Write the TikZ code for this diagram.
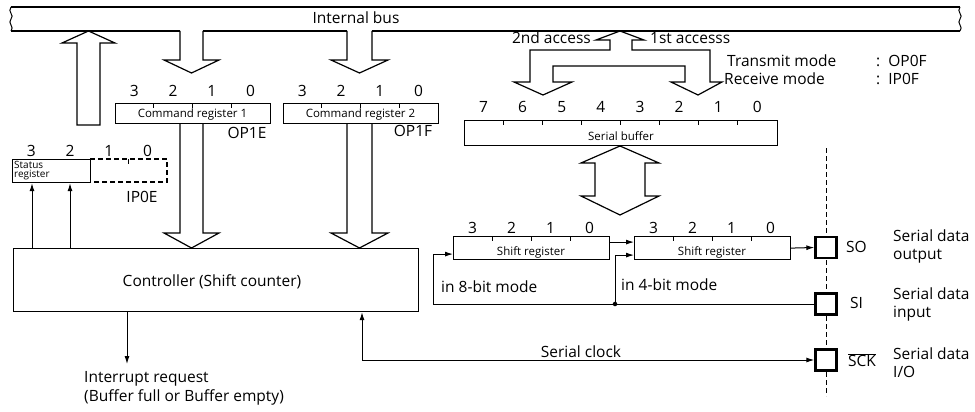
\documentclass[tikz,border=0pt]{standalone}
\usepackage{fontspec}
\setmainfont{Open Sans}
\usetikzlibrary{arrows.meta}
\begin{document}
\begin{tikzpicture}[x=1pt,y=-1pt,
  lbl/.style={font=\fontsize{15.5}{18}\selectfont, inner sep=0pt},
  sml/.style={font=\fontsize{11.5}{12}\selectfont, inner sep=0pt},
  tny/.style={font=\fontsize{10}{9}\selectfont, inner sep=0pt, align=left},
  reg/.style={draw, line width=1.2pt, inner sep=0pt},
  blk/.style={line width=1.2pt, line join=miter},
  arr/.style={-{Latex[length=8pt,width=5pt]}, line width=1pt},
  arrb/.style={{Latex[length=8pt,width=5pt]}-{Latex[length=8pt,width=5pt]}, line width=1pt},
  pin/.style={draw, line width=2.4pt, minimum width=21pt, minimum height=21pt, fill=white, inner sep=0pt},
  dsh/.style={dash pattern=on 5pt off 3pt},
  tck/.style={line width=1pt}]
\useasboundingbox (0,0) rectangle (975,412);

% ---------- internal bus ----------
\draw[blk] (11,7) -- (960,7);
\draw[blk] (11,31) -- (180,31) (203,31) -- (347,31) (372,31) -- (960,31);
\draw[line width=1pt] (11,7) .. controls (7,12) and (15,15) .. (11,19) .. controls (7,23) and (15,27) .. (11,31);
\draw[line width=1pt] (960,7) .. controls (956,12) and (964,15) .. (960,19) .. controls (956,23) and (964,27) .. (960,31);
\node[lbl] (busl) at (356,18) {Internal bus};

% ---------- block arrows ----------
\draw[blk] (77,125) -- (77,43) -- (62,43) -- (88.5,31) -- (115,43) -- (100,43) -- (100,125) -- cycle;
\draw[blk] (180,31) -- (180,60) -- (164,60) -- (191.5,73) -- (219,60) -- (203,60) -- (203,31);
\draw[blk] (347,31) -- (347,60) -- (331,60) -- (359.5,73) -- (388,60) -- (372,60) -- (372,31);
\draw[blk] (180,123) -- (180,233) -- (164,233) -- (191.5,248) -- (219,233) -- (203,233) -- (203,123);
\draw[blk] (347,123) -- (347,233) -- (331,233) -- (359.5,248) -- (388,233) -- (372,233) -- (372,123);
% access arrows
\draw[blk] (530,50) -- (530,82) -- (514,82) -- (543,95) -- (572,82) -- (553,82) -- (553,66)
  -- (685,66) -- (685,82) -- (671,82) -- (698,95) -- (722,82) -- (710,82) -- (710,50)
  -- (632,50) -- (632,40) -- (644,40) -- (620,31) -- (596,40) -- (610,40) -- (610,50) -- cycle;
% buffer <-> shift register
\draw[blk] (620,146) -- (581,163) -- (595,163) -- (595,196) -- (581,196) -- (620,215)
  -- (659,196) -- (645,196) -- (645,163) -- (659,163) -- cycle;

\node[lbl, anchor=east] (acc2) at (591,38) {2nd access};
\node[lbl, anchor=west] (acc1) at (650,38) {1st accesss};
\node[lbl, anchor=west] (txm) at (727,61) {Transmit mode};
\node[lbl, anchor=west] (txv) at (876,61) {:\ \ OP0F};
\node[lbl, anchor=west] (rxm) at (724,79) {Receive mode};
\node[lbl, anchor=west] (rxv) at (876,79) {:\ \ IP0F};

% ---------- command registers ----------
\node[reg, minimum width=155pt, minimum height=20pt, anchor=north west] (cr1) at (115,103) {};
\node[sml] (cr1t) at (192.5,115) {Command register 1};
\foreach \i in {1,2,3} \draw[tck] ({115+38.75*\i},103) -- ++(0,5);
\foreach \b [count=\i] in {3,2,1,0} \node[lbl] (cra\b) at ({115+38.75*\i-19.4},91) {\b};
\node[lbl] (op1e) at (247,133) {OP1E};

\node[reg, minimum width=155pt, minimum height=20pt, anchor=north west] (cr2) at (283,103) {};
\node[sml] (cr2t) at (360.5,115) {Command register 2};
\foreach \i in {1,2,3} \draw[tck] ({283+38.75*\i},103) -- ++(0,5);
\foreach \b [count=\i] in {3,2,1,0} \node[lbl] (crb\b) at ({283+38.75*\i-19.4},91) {\b};
\node[lbl] (op1f) at (413,131) {OP1F};

% ---------- serial buffer ----------
\node[reg, minimum width=313pt, minimum height=25pt, anchor=north west] (sbuf) at (464,120) {};
\node[sml] (sbuft) at (621,136) {Serial buffer};
\foreach \i in {1,...,7} \draw[tck] ({464+39.125*\i},120) -- ++(0,5);
\foreach \b [count=\i] in {7,6,5,4,3,2,1,0} \node[lbl] (sbb\b) at ({464+39.125*\i-19.6},107) {\b};

% ---------- status register ----------
\node[reg, minimum width=78pt, minimum height=23pt, anchor=north west] (st) at (12,159) {};
\draw[line width=1.2pt, dsh] (90,159) -- (167,159) -- (167,182) -- (90,182);
\draw[tck] (128,159) -- ++(0,5);
\node[tny, anchor=west] (stt) at (14,171) {Status\\register};
\foreach \b [count=\i] in {3,2,1,0} \node[lbl] (stb\b) at ({12+38.75*\i-19.4},151) {\b};
\node[lbl] (ip0e) at (142,197) {IP0E};

% ---------- controller ----------
\node[reg, minimum width=405pt, minimum height=63pt, anchor=north west] (ctrl) at (13,248) {};
\node[lbl] (ctrlt) at (212,282) {Controller (Shift counter)};
\draw[arr] (ctrl.north -| 32,0) -- (st.south -| 32,0);
\draw[arr] (ctrl.north -| 70,0) -- (st.south -| 70,0);
\coordinate (irq) at (127,364);
\draw[arr] (ctrl.south -| irq) -- (irq);
\node[lbl, anchor=west] (irqt1) at (84,379) {Interrupt request};
\node[lbl, anchor=west] (irqt2) at (84,397) {(Buffer full or Buffer empty)};

% ---------- shift registers ----------
\node[reg, minimum width=156pt, minimum height=23pt, anchor=north west] (sr1) at (453,236) {};
\node[sml] (sr1t) at (531,252) {Shift register};
\foreach \i in {1,2,3} \draw[tck] ({453+39*\i},236) -- ++(0,5);
\foreach \b [count=\i] in {3,2,1,0} \node[lbl] (sra\b) at ({453+39*\i-19.5},228) {\b};

\node[reg, minimum width=156pt, minimum height=23pt, anchor=north west] (sr2) at (634,236) {};
\node[sml] (sr2t) at (712,252) {Shift register};
\foreach \i in {1,2,3} \draw[tck] ({634+39*\i},236) -- ++(0,5);
\foreach \b [count=\i] in {3,2,1,0} \node[lbl] (srb\b) at ({634+39*\i-19.5},228) {\b};

% ---------- pins ----------
\draw[line width=1pt, dsh] (826,148) -- (826,396);
\node[pin] (so) at (826,247.5) {};
\node[pin] (si) at (826,304) {};
\node[pin] (sck) at (826,360) {};
\node[lbl, anchor=west] (sot) at (846,247) {SO};
\node[lbl, anchor=west] (sit) at (850,303) {SI};
\node[lbl, anchor=west] (sckt) at (848,360) {$\overline{\hbox{SCK}}$};
\node[lbl, anchor=west, align=left] (sod) at (893,246) {Serial data\\output};
\node[lbl, anchor=west, align=left] (sid) at (893,304) {Serial data\\input};
\node[lbl, anchor=west, align=left] (sckd) at (893,363) {Serial data\\I/O};

% ---------- connections ----------
\draw[arr] ([yshift=6pt]sr1.east) -- ([yshift=6pt]sr1.east -| sr2.west);
\draw[arr] (sr2.east) -- (so.west);
\node[circle, fill, inner sep=1.6pt] (jn) at (615,304) {};
\coordinate (c8) at (433,304);
\draw[line width=1pt] (si.west) -- (c8);
\draw[arr] (c8) |- ([yshift=-6pt]sr1.west);
\draw[arr] (jn.center) |- ([yshift=-7pt]sr2.west);
\node[lbl, anchor=west] (m8) at (441,287) {in 8-bit mode};
\node[lbl, anchor=west] (m4) at (621,285) {in 4-bit mode};

\coordinate (clk) at (362,362);
\draw[arrb] (ctrl.south -| clk) |- (sck.west);
\node[lbl] (clkt) at (581,352) {Serial clock};
\end{tikzpicture}
\end{document}
